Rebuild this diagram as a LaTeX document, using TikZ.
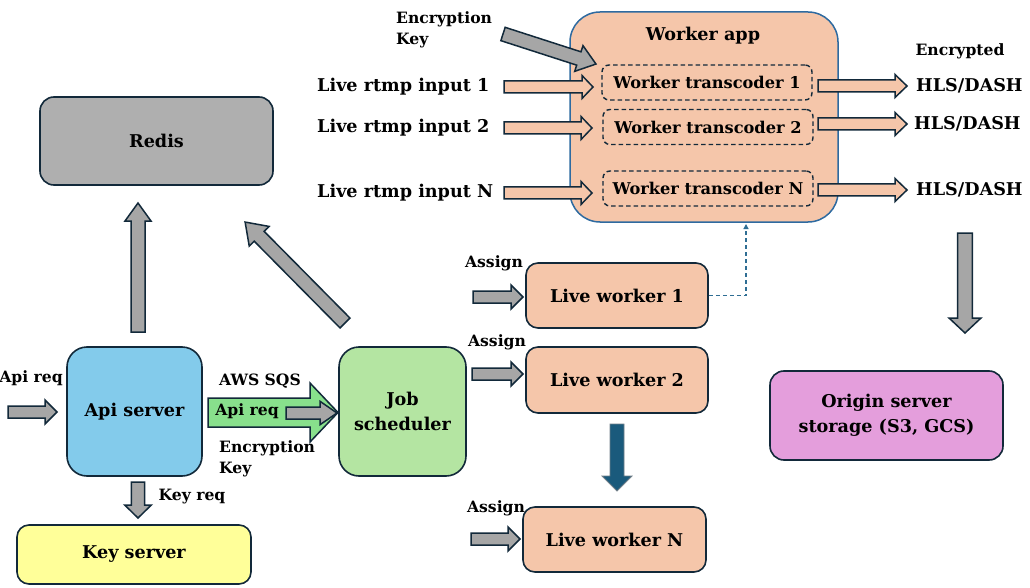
\documentclass[tikz,border=0pt]{standalone}
\usepackage{fontspec}
\setmainfont{DejaVu Serif}
\usetikzlibrary{arrows.meta}
\definecolor{bord}{HTML}{12293A}
\definecolor{wblue}{HTML}{2E6AA0}
\definecolor{peach}{HTML}{F5C6AA}
\definecolor{redisg}{HTML}{AFAFAF}
\definecolor{arrgray}{HTML}{A6A6A6}
\definecolor{apiblue}{HTML}{83CBEB}
\definecolor{jobgreen}{HTML}{B4E5A2}
\definecolor{keyyel}{HTML}{FFFF99}
\definecolor{origpink}{HTML}{E49EDC}
\definecolor{sqsgreen}{HTML}{88E08C}
\definecolor{darkteal}{HTML}{1A5A7C}
\definecolor{dashblue}{HTML}{2F6E94}
\newcommand\barr[7]{% style, start, angle, length, shaft half, head half, head length
  \draw[#1, shift={#2}, rotate=#3] (0,-#5) -- ({#4-#7},-#5) -- ({#4-#7},-#6) -- (#4,0)
    -- ({#4-#7},#6) -- ({#4-#7},#5) -- (0,#5) -- cycle;}
\begin{document}
\begin{tikzpicture}[x=1pt,y=-1pt,
  txt/.style={font=\fontsize{17.6}{25}\selectfont\bfseries, inner sep=0pt, align=center},
  ttxt/.style={font=\fontsize{16.2}{20}\selectfont\bfseries, inner sep=0pt, align=center},
  stxt/.style={font=\fontsize{15.6}{21}\selectfont\bfseries, inner sep=0pt, align=left},
  box/.style={draw=bord, line width=1.6pt, rounded corners=14pt, txt},
  tbox/.style={draw=bord, line width=1.4pt, dash pattern=on 4.5pt off 3pt, rounded corners=7pt,
    minimum width=210pt, minimum height=35pt, ttxt},
  garr/.style={draw=bord, line width=1.5pt, fill=arrgray},
  parr/.style={draw=bord, line width=1.5pt, fill=peach},
  sqsarr/.style={draw=bord, line width=1.5pt, fill=sqsgreen},
  tarr/.style={draw=bord!60, line width=0.8pt, fill=darkteal},
  dashc/.style={draw=dashblue, line width=1.4pt, dash pattern=on 4pt off 3pt}
]
\useasboundingbox (0,0) rectangle (1030,588);
\fill[white] (0,0) rectangle (1030,588);

% worker app
\node[draw=wblue, line width=1.5pt, fill=peach, rounded corners=30pt,
  minimum width=268pt, minimum height=210pt] (app) at (704,117) {};
\node[txt] (apptitle) at (703,36) {Worker app};
\node[tbox] (t1) at (707,82.5) {Worker transcoder 1};
\node[tbox] (t2) at (708,127) {Worker transcoder 2};
\node[tbox] (tn) at (708,188.5) {Worker transcoder N};

% inputs
\node[stxt, anchor=west] (enckey) at (396,30) {Encryption\\Key};
\barr{garr}{(503,34)}{-17.9}{97.7}{7}{13.5}{18}
\node[txt, anchor=west] (in1) at (317,87) {Live rtmp input 1};
\node[txt, anchor=west] (in2) at (317,128) {Live rtmp input 2};
\node[txt, anchor=west] (inn) at (317,193) {Live rtmp input N};
\barr{parr}{(504,87)}{0}{89}{6}{11.5}{11}
\barr{parr}{(504,128)}{0}{88}{6}{11.5}{11}
\barr{parr}{(504,193)}{0}{88}{6}{11.5}{11}

% outputs
\node[stxt] (encr) at (960,51) {Encrypted};
\barr{parr}{(818,86)}{0}{89}{6}{11.5}{12}
\barr{parr}{(818,124)}{0}{89}{6}{11.5}{12}
\barr{parr}{(818,190)}{0}{89}{6}{11.5}{12}
\node[txt, anchor=west] (h1) at (916,86) {HLS/DASH};
\node[txt, anchor=west] (h2) at (914,124) {HLS/DASH};
\node[txt, anchor=west] (hn) at (916,190) {HLS/DASH};
\barr{garr}{(965,233)}{-90}{100}{7.3}{16}{15}

% origin
\node[box, fill=origpink, minimum width=233pt, minimum height=89pt] (orig) at (886.5,415.5)
  {Origin server\\storage (S3, GCS)};

% redis
\node[box, fill=redisg, minimum width=233pt, minimum height=88pt] (redis) at (156.5,141) {Redis};

% api server
\node[box, fill=apiblue, rounded corners=20pt, minimum width=135pt, minimum height=129pt] (api) at (134.5,411.5) {Api server};
\node[box, fill=jobgreen, rounded corners=20pt, minimum width=127pt, minimum height=129pt] (job) at (402.5,411.5) {Job\\scheduler};
\node[box, fill=keyyel, rounded corners=12pt, minimum width=234pt, minimum height=59pt] (key) at (134,554.5) {Key server};

\node[stxt] (apireq) at (31,378) {Api req};
\barr{garr}{(8,412)}{0}{49}{6}{12}{12}
\barr{garr}{(138,482)}{-90}{36}{6.7}{13.3}{13}
\node[stxt] (keyreq) at (192,497) {Key req};
\barr{garr}{(138,332)}{90}{129}{7}{13}{18}
\barr{garr}{(345,323)}{134.7}{142}{7}{14}{20}

% SQS
\barr{sqsarr}{(208,412.5)}{0}{130}{14.5}{29.5}{28}
\node[stxt] (sqsreq) at (247,411) {Api req};
\barr{garr}{(286,413)}{0}{51}{6}{11.7}{17}
\node[stxt] (aws) at (260,381) {AWS SQS};
\node[stxt, anchor=west] (enc2) at (219,459) {Encryption\\Key};

% live workers
\node[box, fill=peach, rounded corners=12pt, minimum width=182pt, minimum height=65pt] (lw1) at (617,295.5) {Live worker 1};
\node[box, fill=peach, rounded corners=12pt, minimum width=182pt, minimum height=66pt] (lw2) at (617,380) {Live worker 2};
\node[box, fill=peach, rounded corners=12pt, minimum width=183pt, minimum height=65pt] (lwn) at (614.5,539.5) {Live worker N};
\node[stxt] (as1) at (494,263) {Assign};
\node[stxt] (as2) at (497,342) {Assign};
\node[stxt] (asn) at (496,508) {Assign};
\barr{garr}{(473,297)}{0}{50}{6}{12}{12}
\barr{garr}{(472,374)}{0}{51}{6}{12}{12}
\barr{garr}{(471,539)}{0}{49}{6}{12}{12}
\barr{tarr}{(617,424)}{-90}{67}{7}{15}{15}

\coordinate (dtop) at (746,224);
\draw[dashc, -{Triangle[length=5pt,width=5pt]}] (lw1.east) -| (dtop);
\end{tikzpicture}
\end{document}
